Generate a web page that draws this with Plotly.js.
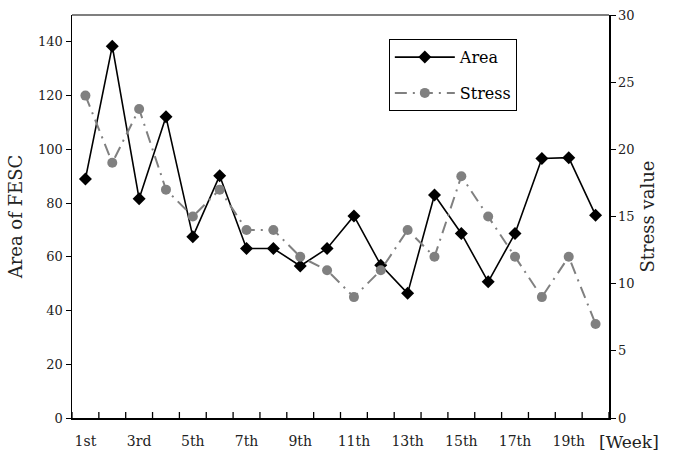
<!DOCTYPE html>
<html><head><meta charset="utf-8">
<script src="https://cdn.plot.ly/plotly-3.0.1.min.js"></script>
<style>html,body{margin:0;padding:0;background:#fff}#chart{width:675px;height:455px}</style>
</head><body><div id="chart"></div>
<script>
const weeks = ["1st","2nd","3rd","4th","5th","6th","7th","8th","9th","10th","11th","12th","13th","14th","15th","16th","17th","18th","19th","20th"];
const area = [89, 138.4, 81.6, 112.1, 67.5, 90.2, 63.1, 63.1, 56.6, 63.1, 75.2, 56.9, 46.4, 83, 68.7, 50.7, 68.7, 96.6, 96.9, 75.5];
const stress = [24, 19, 23, 17, 15, 17, 14, 14, 12, 11, 9, 11, 14, 12, 18, 15, 12, 9, 12, 7];
const weekLabels = weeks.map((w, i) => (i % 2 === 0 ? w : ""));

const F = "DejaVu Serif, serif";
const traces = [
  {x: weeks, y: area, name: "Area", type: "scatter", mode: "lines+markers",
   line: {color: "#000", width: 1.6}, marker: {symbol: "diamond", size: 10, color: "#000"},
   legendgroup: "a"},
  {x: weeks, y: stress, name: "Stress", type: "scatter", mode: "lines+markers", yaxis: "y2",
   line: {color: "#808080", width: 2, dash: "12px,6px,2px,6px"}, marker: {symbol: "circle", size: 10, color: "#808080"},
   legendgroup: "b"}
];
// inward tick marks on the category boundaries of the x axis
const boundaryTicks = weeks.concat([null]).map((w, i) => ({
  type: "line", xref: "x", yref: "paper", ysizemode: "pixel", yanchor: 0,
  x0: i - 0.5, x1: i - 0.5, y0: 0, y1: 6, line: {color: "#000", width: 1.3}
}));
const layout = {
  width: 675, height: 455,
  margin: {l: 72, r: 66, t: 15, b: 37},
  paper_bgcolor: "#fff", plot_bgcolor: "#fff",
  font: {family: F, size: 13, color: "#222"},
  showlegend: true,
  legend: {x: 0.59, y: 0.94, xanchor: "left", yanchor: "top", bordercolor: "#000", borderwidth: 1,
           font: {family: F, size: 16, color: "#000"}, tracegroupgap: 12, itemwidth: 60, bgcolor: "#fff"},
  xaxis: {type: "category", range: [-0.5, 19.5], tickmode: "array", tickvals: weeks, ticktext: weekLabels,
          ticks: "", tickangle: 0,
          showgrid: false, zeroline: false, showline: true, linecolor: "#000", linewidth: 1.5,
          tickfont: {family: F, size: 14, color: "#222"}, ticklabelstandoff: 10},
  yaxis: {range: [0, 150], tickvals: [0,20,40,60,80,100,120,140], ticks: "outside", ticklen: 5, tickcolor: "#000",
          showgrid: false, zeroline: false, showline: true, linecolor: "#000", linewidth: 1.5,
          tickfont: {family: F, size: 13, color: "#222"},
          title: {text: "Area of FESC", font: {family: F, size: 18, color: "#222"}, standoff: 11}},
  yaxis2: {overlaying: "y", side: "right", range: [0, 30], tickvals: [0,5,10,15,20,25,30], ticks: "outside", ticklen: 5,
           tickcolor: "#000", showgrid: false, zeroline: false, showline: true, linecolor: "#000", linewidth: 1.5,
           tickfont: {family: F, size: 13, color: "#222"},
           title: {text: "Stress value", font: {family: F, size: 18, color: "#222"}, standoff: 8}},
  shapes: [{type: "line", xref: "paper", yref: "paper", x0: 0, x1: 1, y0: 1, y1: 1, line: {color: "#555", width: 1.5}}]
          .concat(boundaryTicks),
  annotations: [{text: "[Week]", xref: "paper", yref: "paper", x: 0.978, y: 0, xanchor: "left", yanchor: "top", yshift: -12,
                 showarrow: false, font: {family: F, size: 17, color: "#222"}}]
};
Plotly.newPlot("chart", traces, layout, {displayModeBar: false, staticPlot: true});
</script></body></html>
